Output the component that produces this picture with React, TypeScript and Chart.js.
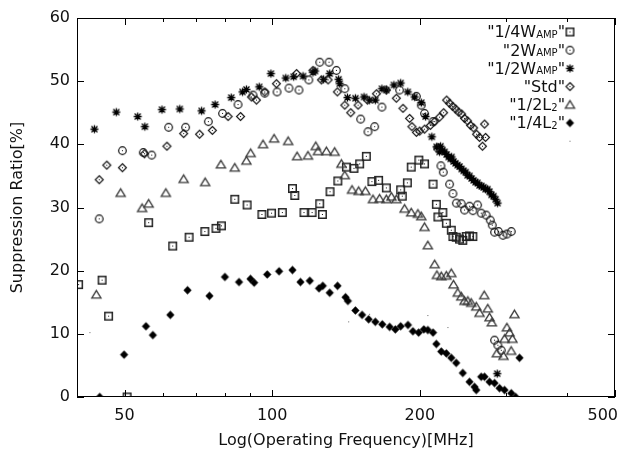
import { useEffect, useRef } from 'react';
import { Chart, registerables } from 'chart.js';

Chart.register(...registerables);

// ---------------- data ----------------
const xTickValues = [50, 100, 200, 500];
const xMinorTickValues = [60, 70, 80, 90, 300, 400];
const yTickValues = [0, 10, 20, 30, 40, 50, 60];

const quarterWampFreq = [40.3, 45.0, 46.4, 50.6, 56.0, 62.7, 67.7, 72.9, 76.8, 78.8, 83.9, 88.9, 95.3, 99.7, 104.9, 110.0, 111.2, 116.1, 120.6, 125.0, 126.6, 131.2, 136.1, 141.7, 146.8, 150.8, 155.6, 159.7, 164.8, 170.9, 182.8, 184.2, 188.6, 192.1, 199.1, 204.5, 212.8, 216.1, 217.7, 222.8, 226.5, 231.8, 233.6, 237.3, 241.0, 244.7, 248.7, 252.6, 256.5];
const quarterWampRatio = [17.8, 18.5, 12.8, 0.0, 27.6, 23.9, 25.3, 26.2, 26.7, 27.1, 31.3, 30.4, 28.9, 29.1, 29.2, 33.0, 31.9, 29.2, 29.2, 30.6, 28.9, 32.5, 34.2, 36.4, 36.2, 36.9, 38.1, 34.1, 34.3, 33.1, 32.8, 31.8, 33.9, 36.4, 37.5, 36.9, 33.7, 30.5, 28.5, 29.2, 27.5, 26.4, 25.4, 25.3, 25.0, 24.8, 25.4, 25.5, 25.4];

const twoWampFreq = [44.4, 49.5, 54.6, 56.8, 61.5, 66.6, 74.1, 79.2, 85.2, 91.4, 96.6, 102.3, 108.2, 113.4, 118.8, 125.0, 130.6, 135.2, 140.6, 151.5, 156.8, 161.8, 167.4, 181.9, 196.8, 201.4, 204.5, 212.8, 217.7, 220.8, 223.3, 230.0, 233.6, 237.4, 243.0, 246.7, 252.6, 256.6, 262.3, 266.8, 273.1, 278.4, 281.0, 284.0, 289.4, 295.5, 301.1, 307.3, 284.0, 288.5, 293.2];
const twoWampRatio = [28.2, 39.0, 38.7, 38.3, 42.7, 42.7, 43.6, 44.9, 46.3, 47.8, 48.1, 48.3, 48.9, 48.6, 50.2, 53.0, 53.0, 51.7, 48.8, 44.0, 42.0, 42.8, 45.9, 48.6, 47.6, 46.2, 44.9, 43.6, 39.4, 36.6, 35.6, 33.7, 32.2, 30.7, 30.6, 29.6, 30.2, 29.5, 30.4, 29.1, 28.8, 28.0, 27.2, 26.1, 26.2, 25.6, 25.8, 26.2, 9.0, 8.2, 7.4];

const halfWampFreq = [43.4, 48.1, 53.2, 55.0, 59.6, 64.8, 71.8, 76.5, 82.5, 87.0, 88.6, 94.1, 99.4, 106.6, 110.6, 115.6, 121.1, 122.3, 127.3, 131.0, 136.6, 137.3, 142.4, 147.8, 153.9, 158.0, 162.3, 167.4, 170.9, 177.1, 182.8, 189.0, 195.2, 201.4, 205.5, 211.6, 216.4, 219.4, 220.4, 222.5, 224.7, 226.8, 228.9, 231.1, 232.2, 234.3, 236.5, 238.8, 241.0, 243.3, 245.6, 248.0, 250.2, 252.6, 255.0, 257.4, 259.8, 262.2, 264.7, 267.2, 269.7, 272.3, 274.8, 277.4, 280.0, 282.7, 285.4, 288.1, 287.6];
const halfWampRatio = [42.4, 45.1, 44.4, 42.8, 45.5, 45.6, 45.3, 46.3, 47.4, 48.3, 48.7, 49.1, 51.2, 50.5, 50.7, 50.8, 51.4, 51.6, 50.3, 51.2, 50.3, 49.6, 47.4, 47.3, 47.5, 47.0, 47.0, 48.8, 48.6, 49.4, 49.7, 48.3, 47.5, 46.6, 44.4, 41.2, 39.6, 38.8, 39.7, 39.1, 38.8, 38.4, 38.0, 37.7, 38.0, 37.3, 37.0, 36.7, 36.5, 36.1, 35.8, 35.6, 35.1, 35.0, 34.6, 34.3, 34.0, 33.9, 33.5, 33.4, 33.2, 32.9, 32.9, 32.5, 32.0, 31.8, 31.3, 30.7, 3.7];

const stdFreq = [44.4, 46.0, 49.5, 54.9, 61.0, 66.0, 71.1, 75.5, 81.3, 86.2, 90.7, 92.9, 96.6, 102.0, 112.1, 121.1, 126.0, 130.0, 135.8, 140.6, 144.6, 149.7, 156.4, 163.1, 170.9, 179.1, 184.8, 190.6, 192.7, 196.8, 199.8, 204.5, 210.1, 214.4, 219.4, 223.6, 226.8, 230.0, 233.3, 236.5, 239.9, 243.3, 246.7, 250.2, 253.8, 257.4, 261.0, 264.7, 271.0, 272.3, 268.4];
const stdRatio = [34.4, 36.7, 36.3, 38.5, 39.7, 41.7, 41.6, 42.2, 44.4, 44.4, 47.5, 47.0, 48.3, 49.6, 51.2, 51.7, 50.2, 50.2, 48.3, 46.2, 45.0, 46.2, 47.0, 48.0, 48.6, 47.3, 45.7, 44.1, 42.8, 41.9, 42.1, 42.4, 43.0, 43.6, 44.3, 45.0, 47.0, 46.5, 46.0, 45.6, 45.1, 44.8, 44.1, 43.7, 43.0, 42.6, 41.6, 41.1, 43.2, 41.1, 39.7];

const halfL2Freq = [43.8, 49.1, 54.3, 56.0, 60.7, 66.0, 73.0, 78.6, 83.9, 88.6, 90.4, 95.8, 100.9, 107.8, 112.4, 118.3, 122.7, 124.0, 129.0, 134.1, 138.4, 140.6, 145.5, 150.1, 154.9, 160.5, 165.6, 170.9, 175.0, 179.1, 186.2, 192.1, 198.2, 201.4, 204.5, 207.7, 214.4, 216.7, 221.2, 226.5, 231.8, 234.3, 239.0, 243.0, 246.7, 250.6, 254.6, 260.7, 264.7, 270.6, 275.2, 277.4, 280.5, 311.9, 301.0, 304.7, 309.0, 297.7, 287.1, 296.2, 307.1];
const halfL2Ratio = [16.2, 32.3, 29.9, 30.6, 32.3, 34.5, 34.0, 36.8, 36.3, 37.4, 38.6, 40.0, 40.9, 40.5, 38.1, 38.2, 39.7, 38.9, 38.9, 38.8, 36.9, 35.1, 32.8, 32.6, 32.6, 31.3, 31.4, 31.3, 31.7, 31.3, 29.8, 29.2, 29.0, 28.6, 26.9, 24.0, 21.0, 19.3, 19.1, 19.2, 19.6, 17.8, 16.5, 15.9, 15.2, 15.2, 14.9, 14.3, 13.3, 16.1, 14.0, 12.6, 11.8, 13.1, 11.0, 10.2, 9.2, 9.2, 6.9, 6.5, 7.3];

const quarterL2Freq = [44.5, 49.9, 55.3, 57.1, 62.0, 67.2, 74.5, 80.1, 85.6, 90.3, 91.9, 97.7, 103.3, 110.0, 114.2, 119.3, 124.6, 126.8, 131.0, 135.9, 141.1, 142.7, 147.8, 152.5, 157.3, 162.3, 167.7, 173.6, 178.3, 182.8, 189.2, 193.6, 198.9, 203.8, 207.7, 212.8, 216.1, 221.2, 226.5, 231.8, 237.3, 244.7, 252.6, 258.6, 260.7, 266.8, 271.0, 277.4, 284.0, 290.8, 297.7, 307.3, 313.6, 319.4];
const quarterL2Ratio = [0.0, 6.7, 11.2, 9.8, 13.0, 16.9, 16.0, 19.0, 18.2, 18.7, 18.1, 19.4, 19.9, 20.1, 18.2, 18.4, 17.2, 17.6, 16.5, 17.6, 15.8, 15.2, 13.7, 13.0, 12.3, 11.9, 11.5, 11.1, 10.7, 11.2, 11.4, 10.4, 10.2, 10.7, 10.6, 10.2, 8.4, 7.2, 6.9, 6.2, 5.4, 3.8, 2.4, 1.6, 1.1, 3.2, 3.2, 2.4, 2.2, 1.4, 1.1, 0.6, 0.0, 6.2];

const dotFreq = [42.5, 143.2, 158.0, 207.7, 228.2];
const dotRatio = [10.2, 11.9, 13.1, 12.9, 11.0];

// legend label parts: [main, subscript, closing]
const legendLabels: string[][] = [
  ['"1/4W', 'AMP', '"'],
  ['"2W', 'AMP', '"'],
  ['"1/2W', 'AMP', '"'],
  ['"Std"', '', ''],
  ['"1/2L', '2', '"'],
  ['"1/4L', '2', '"'],
  ['', '', ''],
];

const xTitle = 'Log(Operating Frequency)[MHz]';
const yTitle = 'Suppression Ratio[%]';

// ---------------- style ----------------
const FONT = '"DejaVu Sans", "Liberation Sans", sans-serif';
const TEXT = '#111';

type MarkerKind = 'square' | 'circle' | 'star' | 'diamond' | 'triangle' | 'fdiamond' | 'dot';

function makeMarker(kind: MarkerKind): HTMLCanvasElement {
  const S = kind === 'dot' ? 3 : 13;
  const cv = document.createElement('canvas');
  cv.width = S;
  cv.height = S;
  const g = cv.getContext('2d')!;
  const c = S / 2;
  g.lineJoin = 'miter';
  const centerDot = () => {
    g.fillStyle = '#111';
    g.fillRect(6, 6, 1, 1);
  };
  switch (kind) {
    case 'square':
      g.strokeStyle = '#222';
      g.lineWidth = 1.5;
      g.strokeRect(2.75, 2.75, 7.5, 7.5);
      centerDot();
      break;
    case 'circle':
      g.strokeStyle = '#111';
      g.lineWidth = 1.2;
      g.beginPath();
      g.arc(c, c, 3.8, 0, Math.PI * 2);
      g.stroke();
      centerDot();
      break;
    case 'star':
      g.strokeStyle = '#000';
      g.lineWidth = 1.3;
      g.beginPath();
      g.moveTo(c - 4, c); g.lineTo(c + 4, c);
      g.moveTo(c, c - 4); g.lineTo(c, c + 4);
      g.moveTo(c - 3, c - 3); g.lineTo(c + 3, c + 3);
      g.moveTo(c - 3, c + 3); g.lineTo(c + 3, c - 3);
      g.stroke();
      break;
    case 'diamond':
      g.strokeStyle = '#111';
      g.lineWidth = 1.15;
      g.beginPath();
      g.moveTo(c, c - 4); g.lineTo(c + 4, c); g.lineTo(c, c + 4); g.lineTo(c - 4, c);
      g.closePath();
      g.stroke();
      centerDot();
      break;
    case 'triangle':
      g.strokeStyle = '#3a3a3a';
      g.lineWidth = 1.3;
      g.beginPath();
      g.moveTo(c, c - 4.2); g.lineTo(c + 4.6, c + 3.4); g.lineTo(c - 4.6, c + 3.4);
      g.closePath();
      g.stroke();
      break;
    case 'fdiamond':
      g.fillStyle = '#000';
      g.beginPath();
      g.moveTo(c, c - 4.3); g.lineTo(c + 4.1, c); g.lineTo(c, c + 4.3); g.lineTo(c - 4.1, c);
      g.closePath();
      g.fill();
      break;
    case 'dot':
      g.fillStyle = '#666';
      g.fillRect(1, 1, 1, 1);
      break;
  }
  return cv;
}

function pairs(xs: number[], ys: number[]) {
  return xs.map((x, i) => ({ x, y: ys[i] }));
}

export default function App() {
  const ref = useRef<HTMLCanvasElement | null>(null);

  useEffect(() => {
    const canvas = ref.current;
    if (!canvas) return;

    const seriesDefs: { freq: number[]; ratio: number[]; kind: MarkerKind }[] = [
      { freq: quarterWampFreq, ratio: quarterWampRatio, kind: 'square' },
      { freq: twoWampFreq, ratio: twoWampRatio, kind: 'circle' },
      { freq: halfWampFreq, ratio: halfWampRatio, kind: 'star' },
      { freq: stdFreq, ratio: stdRatio, kind: 'diamond' },
      { freq: halfL2Freq, ratio: halfL2Ratio, kind: 'triangle' },
      { freq: quarterL2Freq, ratio: quarterL2Ratio, kind: 'fdiamond' },
      { freq: dotFreq, ratio: dotRatio, kind: 'dot' },
    ];
    const markers = seriesDefs.map((s) => makeMarker(s.kind));

    const datasets = seriesDefs.map((s, i) => ({
      label: legendLabels[i].join(''),
      data: pairs(s.freq, s.ratio),
      pointStyle: markers[i] as any,
      pointRadius: 4,
      pointHoverRadius: 4,
      showLine: false,
      order: -i,
    }));

    const decorPlugin = {
      id: 'decor',
      afterDraw(chart: any) {
        const ctx = chart.ctx as CanvasRenderingContext2D;
        const { left, right, top, bottom } = chart.chartArea;
        const xs = chart.scales.x;
        const ys = chart.scales.y;
        ctx.save();
        ctx.strokeStyle = '#000';
        ctx.lineWidth = 1;
        ctx.strokeRect(left + 0.5, top + 0.5, right - left - 1, bottom - top - 1);
        ctx.beginPath();
        yTickValues.forEach((v) => {
          const py = Math.round(ys.getPixelForValue(v)) + 0.5;
          ctx.moveTo(left, py); ctx.lineTo(left + 7, py);
          ctx.moveTo(right, py); ctx.lineTo(right - 7, py);
        });
        xTickValues.forEach((v) => {
          const px = Math.round(xs.getPixelForValue(v)) + 0.5;
          ctx.moveTo(px, bottom); ctx.lineTo(px, bottom - 7);
          ctx.moveTo(px, top); ctx.lineTo(px, top + 7);
        });
        xMinorTickValues.forEach((v) => {
          const px = Math.round(xs.getPixelForValue(v)) + 0.5;
          ctx.moveTo(px, bottom); ctx.lineTo(px, bottom - 4);
          ctx.moveTo(px, top); ctx.lineTo(px, top + 4);
        });
        ctx.stroke();

        // x tick labels
        ctx.fillStyle = TEXT;
        ctx.font = `16px ${FONT}`;
        ctx.textAlign = 'left';
        ctx.textBaseline = 'alphabetic';
        xTickValues.forEach((v) => {
          const t = String(v);
          const w = ctx.measureText(t).width;
          let lx = xs.getPixelForValue(v) - w / 2;
          if (lx + w > chart.width - 2) lx = chart.width - 2 - w;
          ctx.fillText(t, lx, 420);
        });

        // legend
        const rightEdge = 565;
        legendLabels.forEach((parts, i) => {
          const base = 37.3 + i * 18.2;
          ctx.font = `16px ${FONT}`;
          const w1 = ctx.measureText(parts[0]).width;
          const w3 = ctx.measureText(parts[2]).width;
          ctx.font = `10px ${FONT}`;
          const w2 = ctx.measureText(parts[1]).width;
          let x = rightEdge - (w1 + w2 + w3);
          ctx.font = `16px ${FONT}`;
          if (parts[0]) ctx.fillText(parts[0], x, base);
          x += w1;
          ctx.font = `10px ${FONT}`;
          if (parts[1]) ctx.fillText(parts[1], x, base + 0.5);
          x += w2;
          ctx.font = `16px ${FONT}`;
          if (parts[2]) ctx.fillText(parts[2], x, base);
          const m = markers[i];
          ctx.drawImage(m, 570 - m.width / 2, base - 5.3 - m.height / 2);
        });
        ctx.restore();
      },
    };

    const chart = new Chart(canvas, {
      type: 'scatter',
      data: { datasets: datasets as any },
      options: {
        animation: false,
        responsive: false,
        devicePixelRatio: 1,
        layout: { padding: { top: 18, right: 4, left: 0, bottom: 0 } },
        plugins: { legend: { display: false }, tooltip: { enabled: false } },
        scales: {
          x: {
            type: 'logarithmic',
            min: 40,
            max: 500,
            grid: { display: false, drawTicks: false },
            border: { display: false },
            ticks: { display: false },
            afterBuildTicks: (s: any) => {
              s.ticks = xTickValues.map((v) => ({ value: v }));
            },
            afterFit: (s: any) => {
              s.height = 56;
            },
            title: {
              display: true,
              text: xTitle,
              color: TEXT,
              font: { family: FONT, size: 16 },
              padding: { top: 0, bottom: 3 },
            },
          },
          y: {
            type: 'linear',
            min: 0,
            max: 60,
            grid: { display: false, drawTicks: false },
            border: { display: false },
            ticks: { stepSize: 10, padding: 7, color: TEXT, font: { family: FONT, size: 16 } },
            afterFit: (s: any) => {
              s.width = 77;
            },
            title: {
              display: true,
              text: yTitle,
              color: TEXT,
              font: { family: FONT, size: 16 },
              padding: { top: 8, bottom: 0 },
            },
          },
        },
      },
      plugins: [decorPlugin],
    });

    return () => chart.destroy();
  }, []);

  return (
    <div style={{ position: 'absolute', left: 0, top: 0, width: 620, height: 453, background: '#fff' }}>
      <canvas ref={ref} width={620} height={453} style={{ display: 'block', width: 620, height: 453 }} />
    </div>
  );
}
